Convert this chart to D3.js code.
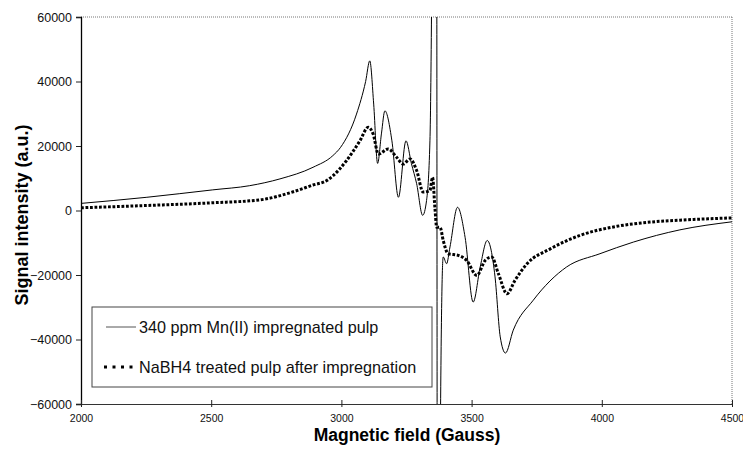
<!DOCTYPE html>
<html>
<head>
<meta charset="utf-8">
<script src="https://cdn.jsdelivr.net/npm/d3@7"></script>
<style>
  body { margin: 0; background: #fff; }
  svg { font-family: "Liberation Sans", Arial, sans-serif; }
</style>
</head>
<body>
<div id="chart"></div>
<script>
// EPR spectra
const fieldMn = [2000, 2253, 2506, 2648, 2764, 2891, 2967, 2997, 3058, 3093, 3109, 3124, 3139, 3154, 3167, 3194, 3219, 3248, 3269, 3289, 3312, 3327, 3340, 3347, 3354, 3366, 3368, 3374, 3380, 3386, 3391, 3404, 3417, 3446, 3475, 3506, 3533, 3560, 3590, 3610, 3630, 3660, 3737, 3865, 3993, 4121, 4300, 4500];
const signalMn = [2200, 4100, 6400, 7700, 9800, 13400, 17000, 19600, 29900, 40000, 46400, 33000, 14600, 24000, 30900, 21600, 4100, 21600, 14500, 8300, -1500, 3100, 21600, 70000, 160000, 90000, -90000, -160000, -70000, -25000, -14400, -16500, -11300, 1000, -8300, -28400, -17500, -9300, -20600, -39200, -44200, -37100, -27800, -17500, -13400, -9800, -6000, -3500];

const fieldNa = [2000, 2253, 2506, 2688, 2815, 2891, 2944, 2968, 3020, 3071, 3103, 3122, 3142, 3180, 3212, 3238, 3263, 3289, 3314, 3340, 3350, 3359, 3366, 3379, 3391, 3410, 3449, 3481, 3520, 3552, 3577, 3603, 3636, 3667, 3713, 3802, 3917, 4058, 4186, 4300, 4500];
const signalNa = [850, 1550, 2400, 3300, 5800, 7900, 9300, 10800, 15500, 21600, 25800, 23700, 17500, 19100, 16500, 14400, 16000, 12400, 5700, 6200, 10300, 1000, -5200, -5200, -9300, -13400, -13900, -15500, -20100, -15500, -14400, -19600, -25800, -21600, -16500, -11900, -7700, -4900, -3600, -3000, -2300];

const xTicks = [2000, 2500, 3000, 3500, 4000, 4500];
const yTicks = [-60000, -40000, -20000, 0, 20000, 40000, 60000];
const legendLabels = ["340 ppm Mn(II) impregnated pulp", "NaBH4 treated pulp after impregnation"];

const W = 743, H = 449;
const margin = { top: 17, right: 11, bottom: 45, left: 81 };
const width = W - margin.left - margin.right;
const height = H - margin.top - margin.bottom;

const svg = d3.select("#chart").append("svg")
  .attr("width", W).attr("height", H);

const g = svg.append("g").attr("transform", `translate(${margin.left},${margin.top})`);

const x = d3.scaleLinear().domain([2000, 4500]).range([0, width]);
const y = d3.scaleLinear().domain([-60000, 60000]).range([height, 0]);

// clip for the spike
svg.append("defs").append("clipPath").attr("id", "plotClip")
  .append("rect").attr("x", 0).attr("y", 0).attr("width", width).attr("height", height);

// frame: dotted top and right
g.append("line").attr("x1", 0).attr("x2", width).attr("y1", 0).attr("y2", 0)
  .attr("stroke", "#777").attr("stroke-dasharray", "1,1");
g.append("line").attr("x1", width).attr("x2", width).attr("y1", 0).attr("y2", height)
  .attr("stroke", "#777").attr("stroke-dasharray", "1,1");

// y axis
const yAxis = g.append("g")
  .call(d3.axisLeft(y).tickValues(yTicks).tickSize(5).tickPadding(4).tickFormat(d3.format("d")));
yAxis.select(".domain").attr("stroke", "#000").attr("stroke-width", 1.3);
yAxis.selectAll(".tick line").attr("stroke", "#222");
yAxis.selectAll("text").attr("font-size", 12.5).attr("fill", "#111");

// x axis
const xAxis = g.append("g").attr("transform", `translate(0,${height})`)
  .call(d3.axisBottom(x).tickValues(xTicks).tickSizeInner(4).tickSizeOuter(0).tickPadding(7).tickFormat(d3.format("d")));
xAxis.select(".domain").attr("stroke", "#333").attr("stroke-width", 1.2);
xAxis.selectAll(".tick line").attr("y1", -4).attr("y2", 3).attr("stroke", "#222");
xAxis.selectAll("text").attr("font-size", 10.5).attr("fill", "#111");

// curves
const pointsMn = fieldMn.map((f, i) => [f, signalMn[i]]);
const pointsNa = fieldNa.map((f, i) => [f, signalNa[i]]);

const line = d3.line()
  .x(d => x(d[0]))
  .y(d => y(d[1]))
  .curve(d3.curveMonotoneX);

const curves = g.append("g").attr("clip-path", "url(#plotClip)");

curves.append("path")
  .datum(pointsNa)
  .attr("d", line)
  .attr("fill", "none")
  .attr("stroke", "#000")
  .attr("stroke-width", 3)
  .attr("stroke-dasharray", "2.8,1.7");

curves.append("path")
  .datum(pointsMn)
  .attr("d", line)
  .attr("fill", "none")
  .attr("stroke", "#000")
  .attr("stroke-width", 1);

// axis titles
svg.append("text")
  .attr("x", 407).attr("y", 441)
  .attr("text-anchor", "middle")
  .attr("font-size", 17.5).attr("font-weight", "bold")
  .text("Magnetic field (Gauss)");

svg.append("text")
  .attr("transform", "translate(28,215) rotate(-90)")
  .attr("text-anchor", "middle")
  .attr("font-size", 18).attr("font-weight", "bold")
  .text("Signal intensity (a.u.)");

// legend
const legend = svg.append("g");
legend.append("rect")
  .attr("x", 92).attr("y", 307).attr("width", 340).attr("height", 80)
  .attr("fill", "#fff").attr("stroke", "#444").attr("stroke-width", 1);

legend.append("line")
  .attr("x1", 106).attr("x2", 136).attr("y1", 327).attr("y2", 327)
  .attr("stroke", "#555").attr("stroke-width", 1);
legend.append("line")
  .attr("x1", 104).attr("x2", 133).attr("y1", 367).attr("y2", 367)
  .attr("stroke", "#000").attr("stroke-width", 3).attr("stroke-dasharray", "3,5.5");

legend.selectAll("text.lab")
  .data(legendLabels)
  .enter()
  .append("text")
  .attr("class", "lab")
  .attr("x", 139)
  .attr("y", (d, i) => 333 + i * 40)
  .attr("font-size", 16.2)
  .attr("fill", "#111")
  .text(d => d);
</script>
</body>
</html>
